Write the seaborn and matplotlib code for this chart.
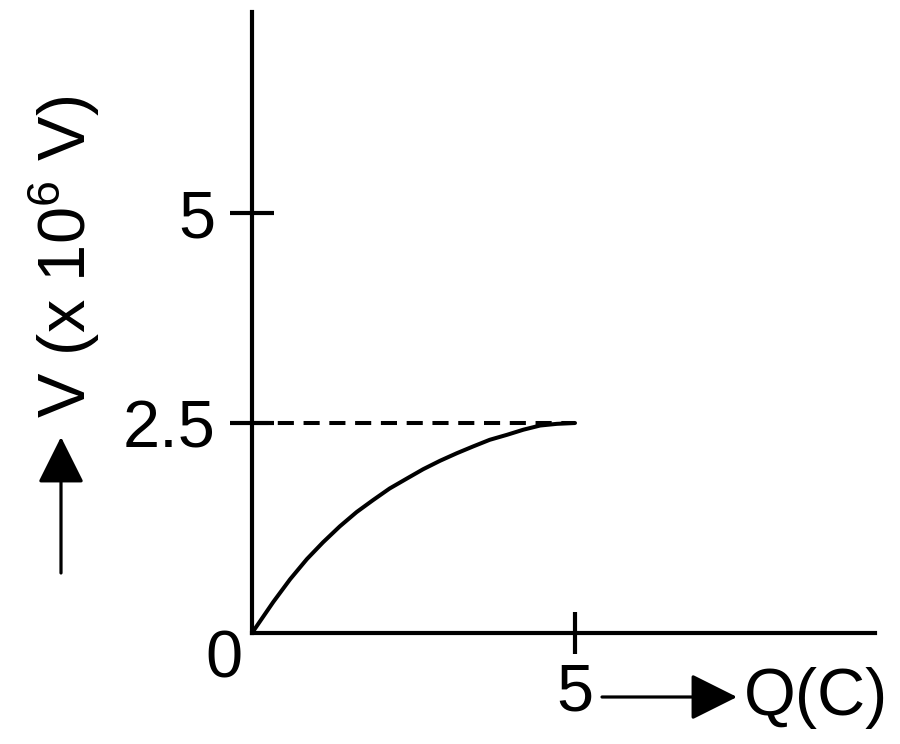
import numpy as np
import pandas as pd
import seaborn as sns
import matplotlib
matplotlib.use("Agg")
import matplotlib.pyplot as plt

# charge Q (C) and potential V (x 10^6 V)
q = [0, 0.33, 0.59, 0.85, 1.10, 1.36, 1.62, 1.87, 2.13, 2.40,
     2.65, 2.91, 3.17, 3.42, 3.68, 3.95, 4.20, 4.46, 4.72, 5.0]
v = [0, 0.37, 0.64, 0.88, 1.08, 1.27, 1.44, 1.58, 1.72, 1.84,
     1.95, 2.05, 2.14, 2.22, 2.30, 2.36, 2.42, 2.47, 2.49, 2.5]
# dashed level line
level_q = [0, 5.0]
level_v = [2.5, 2.5]
yticks = [2.5, 5]
ytick_labels = ["2.5", "5"]
xticks = [5]
xtick_labels = ["5"]

sns.set_theme(style="white")
plt.rcParams["font.family"] = ["Liberation Sans", "DejaVu Sans"]
plt.rcParams["mathtext.default"] = "regular"
plt.rcParams["text.color"] = "black"
FS = 48

fig = plt.figure(figsize=(9, 7.44), dpi=100)
ax = fig.add_axes([252 / 900, 111 / 744, 623 / 900, 621 / 744])

df = pd.DataFrame({"Q": q, "V": v})
sns.lineplot(data=df, x="Q", y="V", ax=ax, color="black", lw=2.9,
             sort=False, clip_on=False)
lv = pd.DataFrame({"Q": level_q, "V": level_v})
sns.lineplot(data=lv, x="Q", y="V", ax=ax, color="black", lw=2.9,
             dashes=False, linestyle=(0, (4.0, 2.4)))

ax.set_xlim(0, 623 / 64.6)
ax.set_ylim(0, 621 / 84)
ax.set_xticks(xticks)
ax.set_xticklabels(xtick_labels)
ax.set_yticks(yticks)
ax.set_yticklabels(ytick_labels)
ax.set_xlabel("")
ax.set_ylabel("")
sns.despine(ax=ax)
for s in ["left", "bottom"]:
    ax.spines[s].set_linewidth(3.0)
    ax.spines[s].set_color("black")
ax.tick_params(axis="y", direction="inout", length=32, width=3.0,
               labelsize=FS, pad=10, colors="black", left=True)
ax.tick_params(axis="x", direction="inout", length=30, width=3.0,
               labelsize=FS, pad=6, colors="black", bottom=True)

# origin label and axis titles
fig.text(224 / 900, 1 - 678 / 744, "0", fontsize=FS, ha="center",
         va="baseline")
fig.text(744 / 900, 1 - 715 / 744, "Q(C)", fontsize=FS, ha="left",
         va="baseline")
fig.text(64 / 900, 1 - 257 / 744, "V (x 10$^6$ V)", fontsize=FS,
         rotation=90, ha="center", va="center")

arrow = dict(arrowstyle="-|>,head_length=1.0,head_width=0.5",
             mutation_scale=29, lw=2.3, color="black",
             shrinkA=0, shrinkB=0)
ax.annotate("", xy=(737 / 900, 1 - 697 / 744),
            xytext=(602 / 900, 1 - 697 / 744),
            xycoords="figure fraction", textcoords="figure fraction",
            arrowprops=arrow)
ax.annotate("", xy=(61 / 900, 1 - 437 / 744),
            xytext=(61 / 900, 1 - 573 / 744),
            xycoords="figure fraction", textcoords="figure fraction",
            arrowprops=arrow)

fig.savefig("out.png", dpi=100)
